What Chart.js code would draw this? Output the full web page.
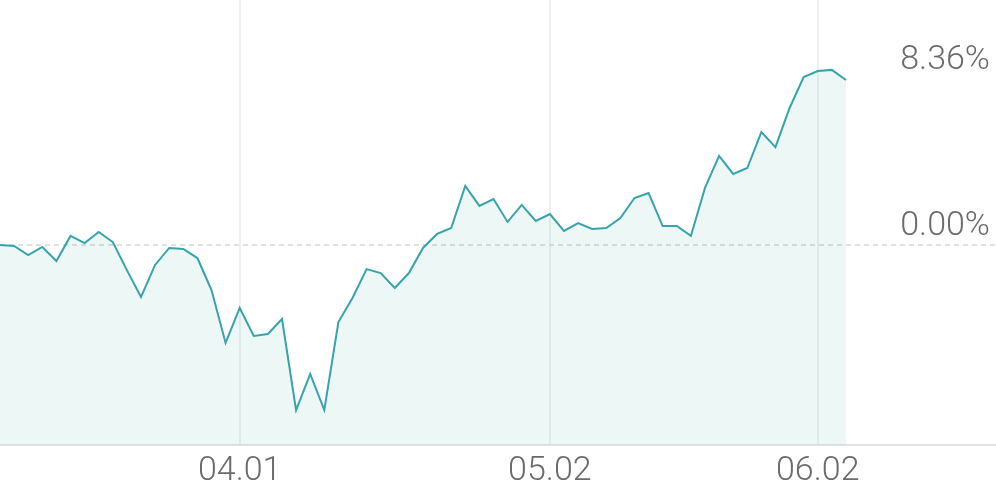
<!DOCTYPE html>
<html>
<head>
<meta charset="utf-8">
<script src="https://cdn.jsdelivr.net/npm/chart.js@4"></script>
<style>
  html, body { margin: 0; padding: 0; background: #fff; }
  #wrap { width: 996px; height: 490px; position: relative; }
</style>
</head>
<body>
<div id="wrap"><canvas id="perf-chart"></canvas></div>
<script>
// cumulative return in %, one value per trading day
var returns = [
  0.00, -0.05, -0.51, -0.10, -0.81, 0.46, 0.10, 0.66, 0.15, -1.27,
  -2.63, -1.01, -0.15, -0.20, -0.66, -2.28, -4.96, -3.19, -4.61, -4.51,
  -3.75, -8.36, -6.53, -8.36, -3.90, -2.68, -1.22, -1.42, -2.18, -1.42,
  -0.15, 0.56, 0.86, 2.99, 1.98, 2.33, 1.17, 2.03, 1.22, 1.57,
  0.71, 1.11, 0.81, 0.86, 1.37, 2.38, 2.63, 0.96, 0.96, 0.46,
  2.89, 4.51, 3.60, 3.90, 5.72, 4.96, 6.94, 8.51, 8.81, 8.87,
  8.36
];
// date ticks on the x axis (index in the series)
var xTickIndex = [17, 39, 58];
var xTickLabels = ["04.01", "05.02", "06.02"];
// y labels: zero line and last value
var yTicks = [0, 8.36];

var lineColor = "#36a3ad";
var txtColor = "#6b6b6b";

var points = returns.map(function (v, i) { return { x: i, y: v }; });

var ctx = document.getElementById("perf-chart").getContext("2d");
new Chart(ctx, {
    type: "line",
    data: {
        datasets: [{
            data: points,
            borderColor: lineColor,
            borderWidth: 2,
            backgroundColor: "rgba(54, 163, 160, 0.09)",
            fill: "start",
            tension: 0,
            pointRadius: 0
        }]
    },
    options: {
        responsive: true,
        maintainAspectRatio: false,
        animation: false,
        layout: { padding: 0 },
        plugins: {
            legend: { display: false },
            tooltip: { enabled: false }
        },
        scales: {
            x: {
                type: "linear",
                min: 0,
                max: 70.64,
                afterBuildTicks: function (axis) {
                    axis.ticks = xTickIndex.map(function (v) { return { value: v }; });
                },
                afterFit: function (axis) {
                    axis.height = 45;
                    axis.paddingLeft = 0;
                    axis.paddingRight = 0;
                },
                ticks: {
                    autoSkip: false,
                    maxRotation: 0,
                    padding: 6,
                    color: txtColor,
                    font: { family: "Roboto", size: 34, weight: "300" },
                    callback: function (value) {
                        var k = xTickIndex.indexOf(value);
                        return k >= 0 ? xTickLabels[k] : "";
                    }
                },
                grid: {
                    color: "#f0f0f0",
                    lineWidth: 2,
                    drawTicks: false
                },
                border: { display: true, color: "#e3e3e3", width: 2 }
            },
            y: {
                position: "right",
                min: -10.13,
                max: 12.41,
                afterBuildTicks: function (axis) {
                    axis.ticks = yTicks.map(function (v) { return { value: v }; });
                },
                afterFit: function (axis) {
                    axis.width = 0;
                    axis.paddingTop = 0;
                    axis.paddingBottom = 0;
                },
                ticks: {
                    mirror: true,
                    padding: -6,
                    labelOffset: -19,
                    color: txtColor,
                    font: { family: "Roboto", size: 34, weight: "300" },
                    callback: function (value) { return value.toFixed(2) + "%"; }
                },
                grid: {
                    drawTicks: false,
                    lineWidth: 2,
                    color: function (c) {
                        return c.tick && c.tick.value === 0 ? "#e0e0e0" : "rgba(0,0,0,0)";
                    }
                },
                border: { display: false, dash: [5, 4] }
            }
        }
    }
});
</script>
</body>
</html>
